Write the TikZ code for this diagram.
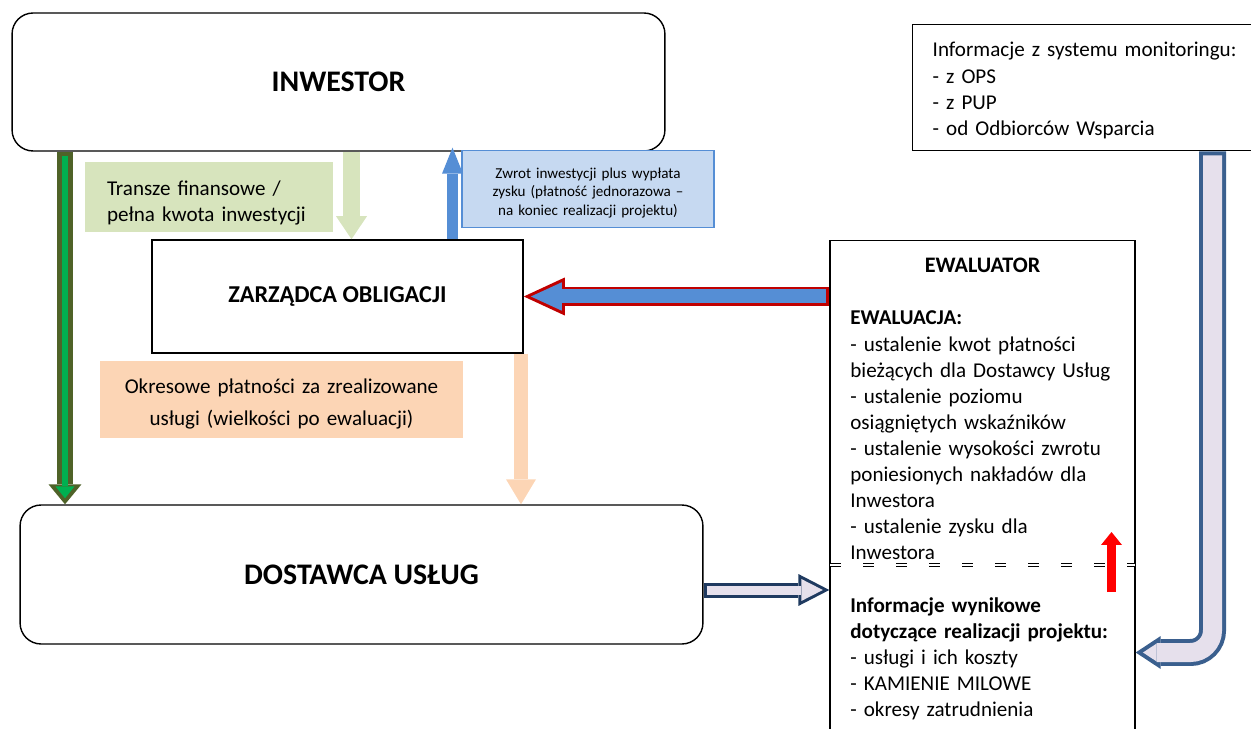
\documentclass[tikz,border=0pt]{standalone}
\usepackage{fontspec}
\setmainfont{Carlito}
\usepackage{tikz}
\usetikzlibrary{positioning,arrows.meta}

\definecolor{trancheGreen}{HTML}{D7E4BD}
\definecolor{oliveBrd}{HTML}{4F6228}
\definecolor{brightGreen}{HTML}{00B050}
\definecolor{returnBlue}{HTML}{558ED5}
\definecolor{paleBlue}{HTML}{C6D9F1}
\definecolor{borderRed}{HTML}{C00000}
\definecolor{paymentPeach}{HTML}{FCD5B5}
\definecolor{navyBrd}{HTML}{1F3A60}
\definecolor{lavender}{HTML}{E6E0EC}
\definecolor{steelBrd}{HTML}{3A5F8E}

\tikzstyle{txt} = [inner sep=0pt, text width=5.7cm, align=left, font=\fontsize{12}{14.8}\selectfont]
\tikzstyle{divider} = [draw=black, line width=0.6pt, double=white, double distance=1.5pt,
                       dash pattern=on 6.3pt off 12.5pt, shorten <=0.45pt, shorten >=0.45pt]

\begin{document}
\begin{tikzpicture}[x=0.02cm, y=-0.02cm,
			box/.style={
					rectangle,
					draw=black,
					line width=0.9pt,
					align=center,
					font=\fontsize{12}{14.8}\selectfont,
				},
			rbox/.style={
					box,
					rounded corners=0.42cm,
					line width=0.8pt,
					font=\fontsize{17}{20}\selectfont\bfseries,
				},
			fillbox/.style={
					rectangle,
					inner ysep=0pt,
					inner xsep=0.1cm,
					align=center,
					font=\fontsize{12}{14.8}\selectfont,
				},
			tip/.style={-{Triangle[#1,line width=0pt]}},
		]

		\useasboundingbox (0,0) rectangle (1251,729);

		% Inwestor
		\node[rbox, minimum width=13.06cm, minimum height=2.76cm] (inwestor) at (338.5,82) {INWESTOR};

		% Dostawca uslug
		\node[rbox, minimum width=13.66cm, minimum height=2.78cm] (dostawca) at (361.5,574.5) {DOSTAWCA USŁUG};

		% Zarzadca obligacji
		\node[box, font=\fontsize{13.8}{16}\selectfont\bfseries, minimum width=7.42cm, minimum height=2.26cm] (zarzadca) at (337.5,296.5) {ZARZĄDCA OBLIGACJI};

		% Ewaluator (runs off the bottom of the page)
		\node[box, line width=0.8pt, minimum width=6.1cm, minimum height=10.6cm, anchor=north] (ewaluator) at (982.5,240) {};
		\node[anchor=base, inner sep=0pt, font=\fontsize{12.6}{14.8}\selectfont\bfseries] (ewtitle) at (982.5,273) {EWALUATOR};
		\node[txt, anchor=base west] (ewaluacja) at (850,325) {
			\textbf{EWALUACJA:}\\
			- ustalenie kwot płatności\\
			bieżących dla Dostawcy Usług\\
			- ustalenie poziomu\\
			osiągniętych wskaźników\\
			- ustalenie wysokości zwrotu\\
			poniesionych nakładów dla\\
			Inwestora\\
			- ustalenie zysku dla\\
			Inwestora
		};
		\draw[divider] (ewaluator.west |- 0,565) -- (ewaluator.east |- 0,565);
		\node[txt, anchor=base west] (wyniki) at (850,612.7) {
			\textbf{Informacje wynikowe}\\
			\textbf{dotyczące realizacji projektu:}\\
			- usługi i ich koszty\\
			- KAMIENIE MILOWE\\
			- okresy zatrudnienia
		};

		% Monitoring (runs off the right edge)
		\node[box, line width=0.8pt, anchor=north west, minimum height=2.52cm, text width=6.4cm, inner xsep=0.4cm, inner ysep=0pt, text height=11.4pt, align=left] (monitor) at (912,24) {
			Informacje z systemu monitoringu:\\
			- z OPS\\
			- z PUP\\
			- od Odbiorców Wsparcia
		};

		% Labels of the flows
		\node[fillbox, fill=trancheGreen, minimum height=1.4cm, text width=4.08cm, inner xsep=0.44cm, text height=15pt, align=left] (transze) at (209,197) {
			Transze finansowe /\\
			pełna kwota inwestycji
		};
		\node[fillbox, fill=paleBlue, draw=returnBlue, line width=1.1pt, minimum height=1.54cm, text width=4.84cm, text height=10.2pt, font=\fontsize{8.6}{10.5}\selectfont] (zwrot) at (588,189) {
			Zwrot inwestycji plus wypłata\\
			zysku (płatność jednorazowa --\\
			na koniec realizacji projektu)
		};
		\node[fillbox, fill=paymentPeach, minimum height=1.54cm, text width=7.06cm, text height=13.4pt, font=\fontsize{12}{18.2}\selectfont] (okresowe) at (281.5,399.5) {
			Okresowe płatności za zrealizowane\\
			usługi (wielkości po ewaluacji)
		};

		% Connections
		\draw[line width=0.32cm, oliveBrd, tip={width=0.66cm,length=0.4cm}] (65,0 |- inwestor.south) -- (65,0 |- dostawca.north);
		\draw[line width=0.12cm, brightGreen, shorten <=0.08cm, shorten >=0.12cm, tip={width=0.38cm,length=0.24cm}] (65,0 |- inwestor.south) -- (65,0 |- dostawca.north);

		\draw[line width=0.34cm, trancheGreen, tip={width=0.62cm,length=0.46cm}] (351.5,0 |- inwestor.south) -- (351.5,0 |- zarzadca.north);

		\draw[line width=0.22cm, returnBlue, shorten >=-0.08cm, tip={width=0.42cm,length=0.52cm}] (452.5,0 |- zarzadca.north) -- (452.5,0 |- inwestor.south);

		\draw[line width=0.4cm, borderRed, tip={width=0.76cm,length=0.82cm}] (zarzadca.east -| ewaluator.west) -- (zarzadca.east);
		\draw[line width=0.28cm, returnBlue, shorten <=0.06cm, shorten >=0.142cm, tip={width=0.57cm,length=0.62cm}] (zarzadca.east -| ewaluator.west) -- (zarzadca.east);

		\draw[line width=0.28cm, paymentPeach, tip={width=0.6cm,length=0.5cm}] (521,0 |- zarzadca.south) -- (521,0 |- dostawca.north);

		\draw[line width=0.3cm, navyBrd, tip={width=0.64cm,length=0.62cm}] (dostawca.east |- 0,590) -- (ewaluator.west |- 0,590);
		\draw[line width=0.18cm, lavender, shorten <=0.06cm, shorten >=0.13cm, tip={width=0.44cm,length=0.43cm}] (dostawca.east |- 0,590) -- (ewaluator.west |- 0,590);

		\draw[line width=0.54cm, steelBrd, rounded corners=0.44cm, tip={width=0.66cm,length=0.5cm}] (1212.5,0 |- monitor.south) |- (ewaluator.east |- 0,652.5);
		\draw[line width=0.38cm, lavender, rounded corners=0.44cm, shorten <=0.08cm, shorten >=0.146cm, tip={width=0.36cm,length=0.274cm}] (1212.5,0 |- monitor.south) |- (ewaluator.east |- 0,652.5);

		\coordinate (rtail) at (1111.5,592);
		\coordinate (rtip) at (1111.5,532);
		\draw[line width=0.17cm, red, tip={width=0.42cm,length=0.26cm}] (rtail) -- (rtip);
	\end{tikzpicture}
\end{document}
